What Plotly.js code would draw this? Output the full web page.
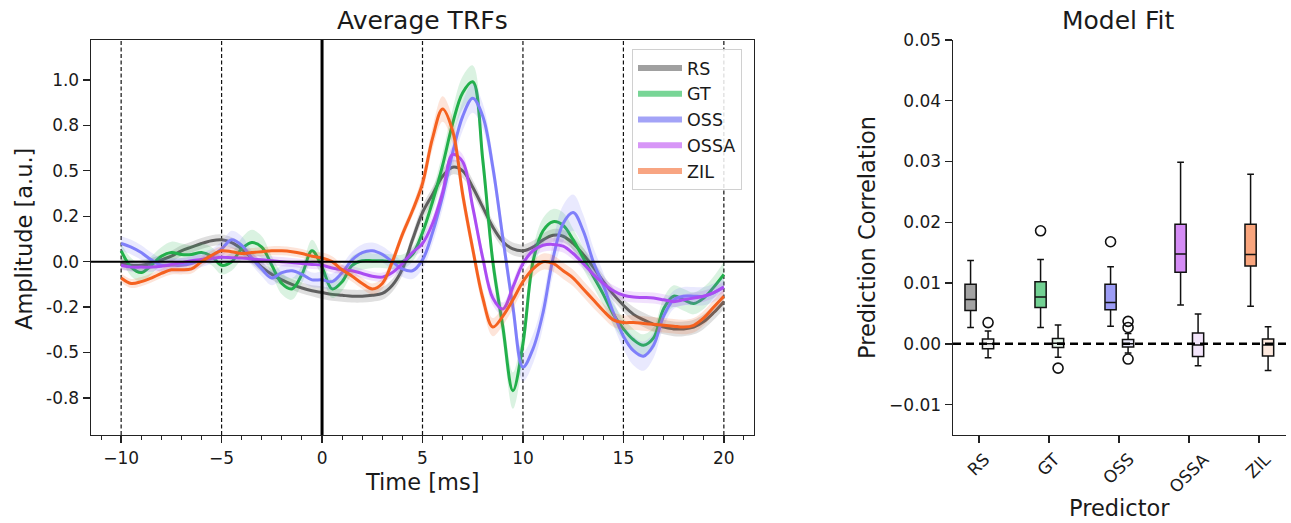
<!DOCTYPE html>
<html><head><meta charset="utf-8">
<script src="https://cdn.plot.ly/plotly-3.0.1.min.js"></script>
<style>html,body{margin:0;padding:0;background:#fff}#chart{width:1291px;height:523px}</style>
</head><body><div id="chart"></div>
<script>
// ---------- Left panel: Average TRFs ----------
const time = [-10,-9.5,-9,-8.5,-8,-7.5,-7,-6.5,-6,-5.5,-5,-4.5,-4,-3.5,-3,-2.5,-2,-1.5,-1,-0.5,
  0,0.5,1,1.5,2,2.5,3,3.5,4,4.5,5,5.5,6,6.5,7,7.5,8,8.5,9,9.5,
  10,10.5,11,11.5,12,12.5,13,13.5,14,14.5,15,15.5,16,16.5,17,17.5,18,18.5,19,19.5,20];

const seriesNames = ['RS','GT','OSS','OSSA','ZIL'];

const rs = [-0.01,-0.02,-0.02,-0.01,0.01,0.03,0.06,0.08,0.10,0.115,0.12,0.105,0.07,0.02,-0.03,-0.07,-0.10,-0.125,-0.145,-0.16,
  -0.17,-0.18,-0.185,-0.19,-0.19,-0.185,-0.175,-0.13,-0.04,0.12,0.27,0.37,0.47,0.52,0.50,0.41,0.30,0.19,0.11,0.07,
  0.06,0.08,0.12,0.145,0.14,0.10,0.04,-0.03,-0.11,-0.18,-0.24,-0.29,-0.32,-0.345,-0.36,-0.37,-0.37,-0.36,-0.33,-0.28,-0.22];
const gt = [0.06,-0.03,-0.06,-0.02,0.03,0.05,0.04,0.04,0.05,0.03,-0.02,0.00,0.07,0.105,0.08,-0.02,-0.12,-0.15,-0.07,0.06,
  -0.03,-0.15,-0.11,-0.02,0.005,0.005,0.005,0.0,0.0,0.04,0.16,0.33,0.53,0.76,0.93,0.99,0.56,0.0,-0.36,-0.71,
  -0.45,0.0,0.17,0.22,0.20,0.12,0.02,-0.08,-0.18,-0.29,-0.37,-0.43,-0.46,-0.42,-0.26,-0.19,-0.21,-0.23,-0.20,-0.14,-0.07];
const oss = [0.10,0.08,0.05,0.01,-0.02,-0.02,-0.02,-0.01,0.01,0.03,0.07,0.12,0.09,0.02,-0.04,-0.09,-0.06,-0.05,-0.07,-0.10,
  -0.10,-0.11,-0.06,0.01,0.05,0.06,0.04,0.0,-0.04,-0.05,0.01,0.16,0.36,0.60,0.80,0.90,0.80,0.52,0.13,-0.25,
  -0.58,-0.48,-0.28,0.02,0.21,0.27,0.17,0.0,-0.13,-0.28,-0.41,-0.49,-0.52,-0.46,-0.30,-0.21,-0.19,-0.19,-0.19,-0.17,-0.14];
const ossa = [-0.02,-0.03,-0.03,-0.03,-0.025,-0.015,-0.005,0.005,0.012,0.018,0.024,0.022,0.02,0.015,0.01,0.005,0.0,-0.005,-0.01,-0.015,
  -0.02,-0.035,-0.045,-0.05,-0.065,-0.08,-0.085,-0.06,-0.01,0.05,0.10,0.21,0.38,0.59,0.55,0.30,0.02,-0.20,-0.26,-0.14,
  -0.01,0.06,0.09,0.095,0.085,0.045,-0.01,-0.07,-0.12,-0.16,-0.185,-0.195,-0.197,-0.20,-0.21,-0.22,-0.21,-0.20,-0.19,-0.17,-0.14];
const zil = [-0.09,-0.12,-0.11,-0.09,-0.065,-0.045,-0.045,-0.04,0.0,0.035,0.06,0.055,0.045,0.05,0.055,0.06,0.06,0.055,0.045,0.03,
  0.02,0.0,-0.045,-0.08,-0.12,-0.15,-0.12,0.0,0.15,0.28,0.43,0.68,0.84,0.72,0.37,0.07,-0.20,-0.36,-0.30,-0.21,
  -0.11,-0.04,0.0,-0.01,-0.05,-0.09,-0.15,-0.21,-0.27,-0.32,-0.335,-0.335,-0.34,-0.345,-0.35,-0.355,-0.36,-0.35,-0.31,-0.25,-0.19];

// half-widths of the shaded error bands
const rsErr = [0.03,0.03,0.03,0.03,0.03,0.03,0.03,0.03,0.03,0.03,0.03,0.03,0.03,0.03,0.03,0.03,0.03,0.03,0.03,0.03,
  0.035,0.035,0.035,0.035,0.035,0.035,0.035,0.035,0.035,0.035,0.04,0.04,0.04,0.04,0.04,0.04,0.035,0.035,0.035,0.035,
  0.035,0.035,0.035,0.035,0.035,0.035,0.035,0.035,0.035,0.035,0.035,0.04,0.04,0.04,0.04,0.04,0.04,0.04,0.04,0.04,0.04];
const gtErr = [0.04,0.05,0.05,0.05,0.05,0.06,0.06,0.05,0.05,0.05,0.05,0.05,0.06,0.07,0.06,0.05,0.06,0.06,0.05,0.06,
  0.05,0.05,0.05,0.05,0.05,0.04,0.04,0.04,0.04,0.04,0.05,0.06,0.07,0.08,0.09,0.09,0.08,0.07,0.08,0.10,
  0.09,0.07,0.07,0.07,0.07,0.06,0.06,0.06,0.06,0.06,0.06,0.06,0.06,0.06,0.06,0.06,0.06,0.06,0.06,0.06,0.07];
const ossErr = [0.04,0.04,0.04,0.04,0.04,0.04,0.04,0.04,0.04,0.04,0.04,0.05,0.05,0.04,0.04,0.04,0.04,0.04,0.04,0.04,
  0.045,0.045,0.045,0.045,0.045,0.045,0.045,0.045,0.045,0.045,0.05,0.06,0.07,0.08,0.08,0.08,0.07,0.06,0.06,0.07,
  0.08,0.08,0.08,0.09,0.10,0.10,0.09,0.08,0.07,0.07,0.07,0.08,0.08,0.07,0.06,0.05,0.05,0.05,0.05,0.05,0.05];
const ossaErr = [0.025,0.025,0.025,0.025,0.025,0.025,0.025,0.025,0.025,0.025,0.025,0.025,0.025,0.025,0.025,0.025,0.025,0.025,0.025,0.025,
  0.025,0.025,0.025,0.025,0.025,0.025,0.025,0.025,0.025,0.025,0.04,0.04,0.04,0.04,0.04,0.04,0.04,0.04,0.035,0.035,
  0.035,0.035,0.035,0.035,0.035,0.035,0.03,0.03,0.03,0.03,0.03,0.03,0.03,0.03,0.03,0.03,0.03,0.03,0.03,0.03,0.03];
const zilErr = [0.025,0.025,0.025,0.025,0.025,0.025,0.025,0.025,0.025,0.025,0.025,0.025,0.025,0.025,0.025,0.025,0.025,0.025,0.025,0.025,
  0.03,0.03,0.03,0.03,0.03,0.03,0.03,0.03,0.03,0.03,0.05,0.06,0.07,0.07,0.06,0.05,0.05,0.05,0.05,0.05,
  0.045,0.045,0.045,0.045,0.045,0.045,0.045,0.045,0.04,0.04,0.04,0.04,0.04,0.04,0.04,0.04,0.04,0.04,0.04,0.04,0.04];

const yTickVals = [-0.75,-0.5,-0.25,0,0.25,0.5,0.75,1.0];
const yTickText = ['-0.8','-0.5','-0.2','0.0','0.2','0.5','0.8','1.0'];
const xTickVals = [-10,-5,0,5,10,15,20];
const markerTimes = [-10,-5,5,10,15,20];

// ---------- Right panel: Model Fit ----------
const predictors = ['RS','GT','OSS','OSSA','ZIL'];
const fitLower  = [0.0027,0.0027,0.0029,0.0064,0.0062];
const fitQ1     = [0.0055,0.0060,0.0056,0.0118,0.0128];
const fitMedian = [0.0073,0.0077,0.0068,0.0148,0.0147];
const fitQ3     = [0.0098,0.0102,0.0098,0.0197,0.0197];
const fitUpper  = [0.0137,0.0139,0.0127,0.0299,0.0279];
const nullLower  = [-0.0023,-0.0022,-0.0015,-0.0036,-0.0044];
const nullQ1     = [-0.0008,-0.0006,-0.0005,-0.0021,-0.0020];
const nullMedian = [0.0000,0.0001,0.0000,-0.0002,-0.0002];
const nullQ3     = [0.0008,0.0009,0.0007,0.0018,0.0008];
const nullUpper  = [0.0021,0.0031,0.0017,0.0049,0.0028];
const fitOutlierPred = ['GT','OSS'];
const fitOutlierVal  = [0.0186,0.0168];
const nullOutlierPred = ['RS','GT','OSS','OSS','OSS'];
const nullOutlierVal  = [0.0035,-0.0040,0.0037,0.0027,-0.0025];
const corrTickVals = [-0.01,0,0.01,0.02,0.03,0.04,0.05];

// ---------- styles ----------
const lineColors = ['#5f5f5f','#22b04b','#7f7ffa','#ab4cf2','#f5611f'];
const bandColors = ['rgba(95,95,95,0.2)','rgba(34,176,75,0.17)','rgba(127,127,250,0.17)','rgba(171,76,242,0.17)','rgba(245,97,31,0.17)'];
const legendColors = ['#a0a0a0','#78d596','#a3a3f7','#d796f7','#f8a582'];
const fitColors = ['#a3a3a3','#72d193','#9d9df6','#d58cf6','#f9a57d'];
const nullColors = ['#f2f2f2','#e8f7ec','#ececfd','#f4e6fc','#fde9de'];

const W = 1291, H = 523;
const px = v => v / W;
const py = v => 1 - v / H;
const FONT = 'DejaVu Sans, Liberation Sans, sans-serif';
const INK = '#1a1a1a';

const values = [rs, gt, oss, ossa, zil];
const errs = [rsErr, gtErr, ossErr, ossaErr, zilErr];
const traces = [];

values.forEach((v, i) => {
  const up = v.map((y, k) => y + errs[i][k]);
  const lo = v.map((y, k) => y - errs[i][k]);
  traces.push({x: time, y: up, mode: 'lines', line: {width: 0, shape: 'spline', color: 'rgba(0,0,0,0)'},
    showlegend: false, hoverinfo: 'skip', xaxis: 'x', yaxis: 'y'});
  traces.push({x: time, y: lo, mode: 'lines', line: {width: 0, shape: 'spline', color: 'rgba(0,0,0,0)'},
    fill: 'tonexty', fillcolor: bandColors[i], showlegend: false, hoverinfo: 'skip', xaxis: 'x', yaxis: 'y'});
  traces.push({x: time, y: v, mode: 'lines', name: seriesNames[i], line: {width: 3, shape: 'spline', color: lineColors[i]},
    showlegend: false, xaxis: 'x', yaxis: 'y'});
});
seriesNames.forEach((n, i) => {
  traces.push({x: [null], y: [null], mode: 'lines', name: n, line: {width: 6, color: legendColors[i]},
    showlegend: true, xaxis: 'x', yaxis: 'y'});
});

// box plots
const OFF_FIT = -0.12, OFF_NULL = 0.13, BW = 0.16;
predictors.forEach((p, i) => {
  traces.push({type: 'box', x: [i + OFF_FIT], q1: [fitQ1[i]], median: [fitMedian[i]], q3: [fitQ3[i]],
    lowerfence: [fitLower[i]], upperfence: [fitUpper[i]], width: BW, whiskerwidth: 0.6,
    fillcolor: fitColors[i], line: {color: '#111', width: 1.5}, boxpoints: false,
    showlegend: false, name: p, xaxis: 'x2', yaxis: 'y2'});
  traces.push({type: 'box', x: [i + OFF_NULL], q1: [nullQ1[i]], median: [nullMedian[i]], q3: [nullQ3[i]],
    lowerfence: [nullLower[i]], upperfence: [nullUpper[i]], width: BW, whiskerwidth: 0.6,
    fillcolor: nullColors[i], line: {color: '#111', width: 1.5}, boxpoints: false,
    showlegend: false, name: p + ' null', xaxis: 'x2', yaxis: 'y2'});
});
traces.push({type: 'scatter', mode: 'markers', x: fitOutlierPred.map(p => predictors.indexOf(p) + OFF_FIT), y: fitOutlierVal,
  marker: {symbol: 'circle-open', size: 10, color: '#111', line: {width: 1.6}}, showlegend: false, xaxis: 'x2', yaxis: 'y2'});
traces.push({type: 'scatter', mode: 'markers', x: nullOutlierPred.map(p => predictors.indexOf(p) + OFF_NULL), y: nullOutlierVal,
  marker: {symbol: 'circle-open', size: 10, color: '#111', line: {width: 1.6}}, showlegend: false, xaxis: 'x2', yaxis: 'y2'});

const shapes = [];
markerTimes.forEach(t => shapes.push({type: 'line', xref: 'x', yref: 'y domain', x0: t, x1: t, y0: 0, y1: 1,
  line: {color: '#111', width: 1.2, dash: '4px,2.5px'}, layer: 'below'}));
shapes.push({type: 'line', xref: 'x', yref: 'y domain', x0: 0, x1: 0, y0: 0, y1: 1, line: {color: '#000', width: 3}, layer: 'above'});
shapes.push({type: 'line', xref: 'x domain', yref: 'y', x0: 0, x1: 1, y0: 0, y1: 0, line: {color: '#000', width: 2}, layer: 'above'});
shapes.push({type: 'line', xref: 'x2 domain', yref: 'y2', x0: 0, x1: 1, y0: 0, y1: 0, line: {color: '#000', width: 2.5, dash: '8px,5px'}, layer: 'above'});

const annotations = [
  {text: 'Average TRFs', x: px(422), y: py(21), xref: 'paper', yref: 'paper', xanchor: 'center', yanchor: 'middle', showarrow: false, font: {size: 25, color: INK, family: FONT}},
  {text: 'Model Fit', x: px(1118), y: py(21), xref: 'paper', yref: 'paper', xanchor: 'center', yanchor: 'middle', showarrow: false, font: {size: 25, color: INK, family: FONT}},
  {text: 'Time [ms]', x: px(422), y: py(482), xref: 'paper', yref: 'paper', xanchor: 'center', yanchor: 'middle', showarrow: false, font: {size: 22.5, color: INK, family: FONT}},
  {text: 'Amplitude [a.u.]', x: px(24), y: py(239), xref: 'paper', yref: 'paper', xanchor: 'center', yanchor: 'middle', textangle: -90, showarrow: false, font: {size: 22.5, color: INK, family: FONT}},
  {text: 'Predictor', x: px(1119), y: py(508), xref: 'paper', yref: 'paper', xanchor: 'center', yanchor: 'middle', showarrow: false, font: {size: 22.5, color: INK, family: FONT}},
  {text: 'Prediction Correlation', x: px(867), y: py(238), xref: 'paper', yref: 'paper', xanchor: 'center', yanchor: 'middle', textangle: -90, showarrow: false, font: {size: 22.5, color: INK, family: FONT}}
];
predictors.forEach((p, i) => annotations.push({text: p, x: i, xref: 'x2', y: py(446), yref: 'paper',
  xanchor: 'center', yanchor: 'top', textangle: -45, showarrow: false, font: {size: 17, color: INK, family: FONT}}));

const axisCommon = {showgrid: false, zeroline: false, showline: true, linecolor: '#222', linewidth: 1.4,
  ticks: 'outside', ticklen: 7, tickwidth: 1.3, tickcolor: '#222', tickfont: {size: 17, color: INK, family: FONT}};

const layout = {
  width: W, height: H, margin: {l: 0, r: 0, t: 0, b: 0}, paper_bgcolor: '#fff', plot_bgcolor: '#fff',
  font: {family: FONT, color: INK},
  showlegend: true,
  legend: {x: px(632), y: py(49), xanchor: 'left', yanchor: 'top', bgcolor: 'rgba(255,255,255,0.85)',
    bordercolor: '#d0d0d0', borderwidth: 1, font: {size: 17.5, color: INK, family: FONT}, traceorder: 'normal',
    itemwidth: 44},
  xaxis: Object.assign({}, axisCommon, {domain: [px(91), px(754)], range: [-11.5, 21.5], anchor: 'y', mirror: true,
    tickmode: 'array', tickvals: xTickVals,
    minor: {dtick: 1, tick0: 0, ticks: 'outside', ticklen: 4, tickwidth: 1, tickcolor: '#222', showgrid: false}}),
  yaxis: Object.assign({}, axisCommon, {domain: [py(435), py(40)], range: [-0.954, 1.22], anchor: 'x', mirror: true,
    tickmode: 'array', tickvals: yTickVals, ticktext: yTickText}),
  xaxis2: Object.assign({}, axisCommon, {domain: [px(953), px(1286)], range: [-0.371, 4.386], anchor: 'y2',
    tickmode: 'array', tickvals: [0,1,2,3,4], showticklabels: false}),
  yaxis2: Object.assign({}, axisCommon, {domain: [py(435), py(40)], range: [-0.015, 0.05], anchor: 'x2',
    tickmode: 'array', tickvals: corrTickVals, tickformat: '.2f'}),
  shapes: shapes,
  annotations: annotations,
  boxmode: 'overlay'
};

Plotly.newPlot('chart', traces, layout, {displayModeBar: false, staticPlot: true});
</script>
</body></html>
